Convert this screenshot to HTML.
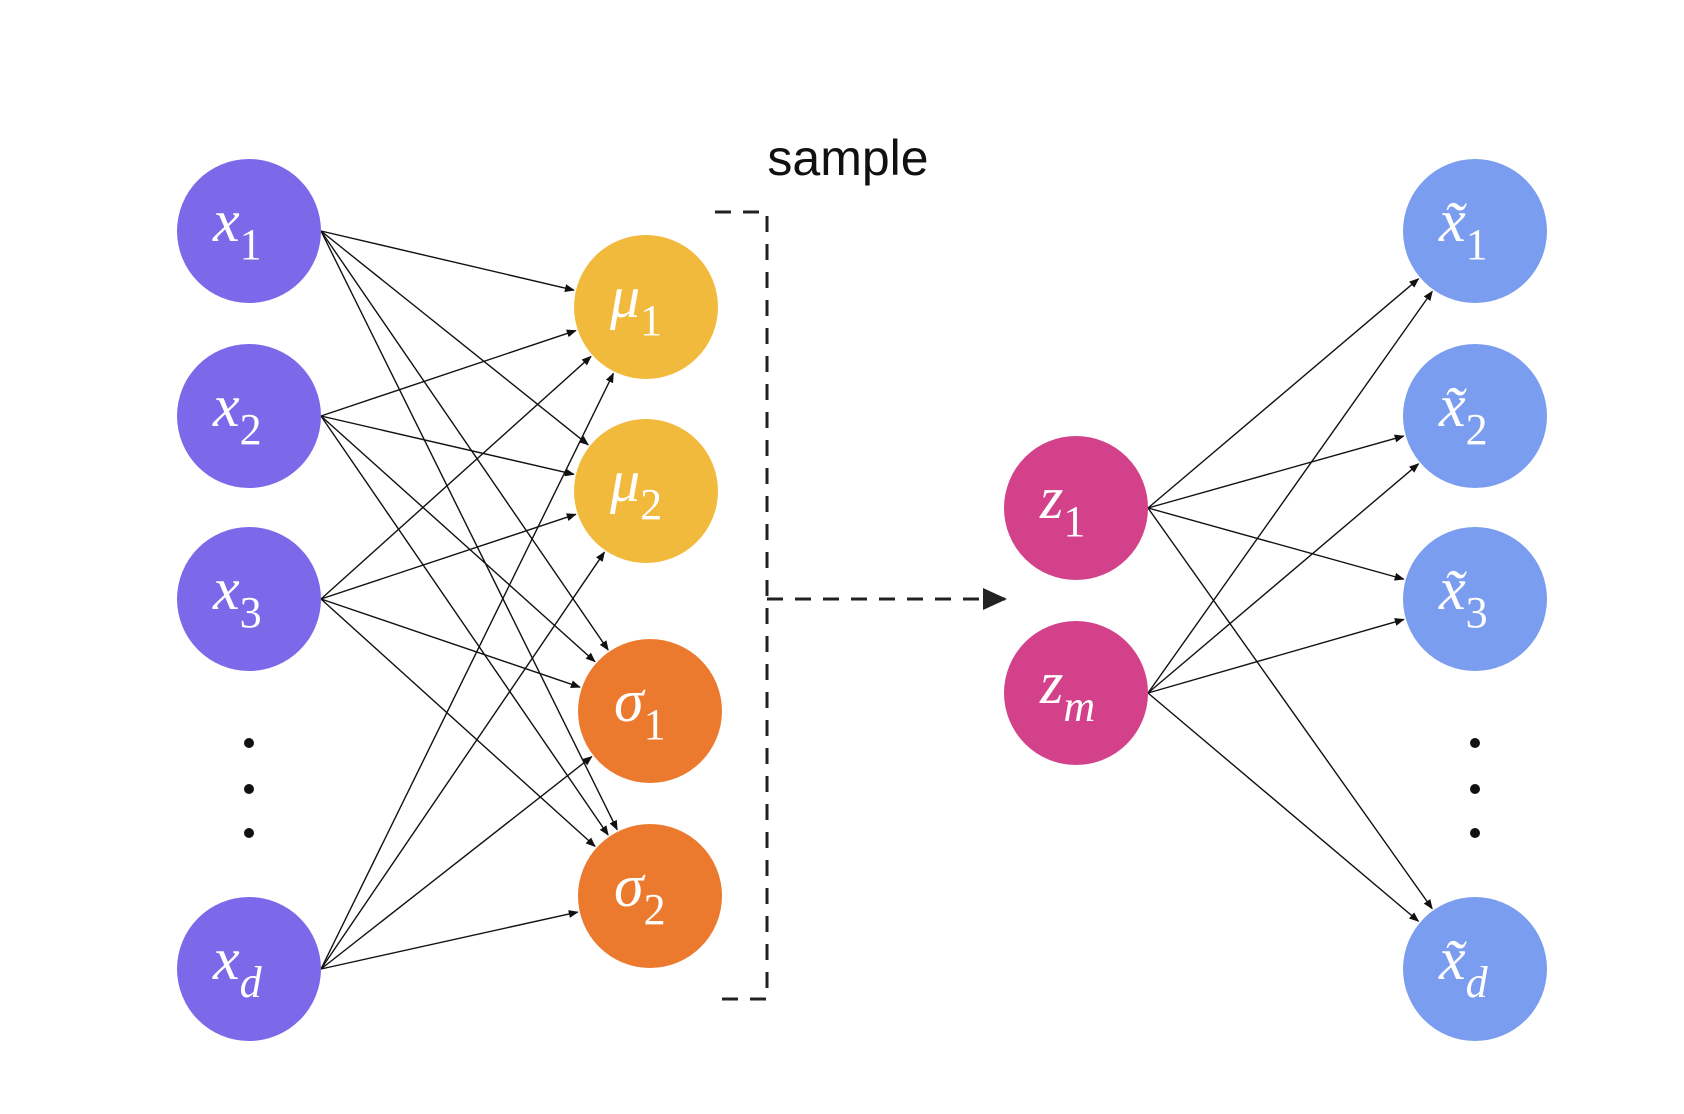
<!DOCTYPE html>
<html><head><meta charset="utf-8"><style>
html,body{margin:0;padding:0;background:#fff;}
svg{display:block}
.lbl{font-family:"Liberation Serif",serif;fill:#fff;}
</style></head><body>
<svg id="s" width="1684" height="1114" viewBox="0 0 1684 1114" xmlns="http://www.w3.org/2000/svg">
<defs><marker id="ah" markerWidth="10" markerHeight="8" refX="9" refY="4" orient="auto" markerUnits="userSpaceOnUse"><path d="M0,0 L10,4 L0,8 z" fill="#111"/></marker>
<marker id="ab" markerWidth="24" markerHeight="22" refX="22" refY="11" orient="auto" markerUnits="userSpaceOnUse"><path d="M0,0 L24,11 L0,22 z" fill="#222"/></marker></defs>
<g id="edges" stroke="#111" stroke-width="1.4" fill="none"></g>
<g id="nodes"></g>
<text x="848" y="175" font-family="Liberation Sans, sans-serif" font-size="50" fill="#111" text-anchor="middle">sample</text>
<path d="M715,212 H767 V999 H715" stroke="#222" stroke-width="3" fill="none" stroke-dasharray="16,12"/>
<path d="M767,599 H1005" stroke="#222" stroke-width="3" fill="none" stroke-dasharray="16,12" marker-end="url(#ab)"/>
<g fill="#111"><circle cx="249" cy="743" r="5"/><circle cx="249" cy="789" r="5"/><circle cx="249" cy="833" r="5"/>
<circle cx="1475" cy="743" r="5"/><circle cx="1475" cy="789" r="5"/><circle cx="1475" cy="833" r="5"/></g>
</svg>
<script>
var NS="http://www.w3.org/2000/svg",R=72;
var X=[[249,231,"x","1"],[249,416,"x","2"],[249,599,"x","3"],[249,969,"x","d"]];
var H=[[646,307,"μ","1","#F2BA3C"],[646,491,"μ","2","#F2BA3C"],[650,711,"σ","1","#EC7A2E"],[650,896,"σ","2","#EC7A2E"]];
var Z=[[1076,508,"z","1"],[1076,693,"z","m"]];
var T=[[1475,231,"x̃","1"],[1475,416,"x̃","2"],[1475,599,"x̃","3"],[1475,969,"x̃","d"]];
var eg=document.getElementById("edges"),ng=document.getElementById("nodes");
function edge(a,b){var sx=a[0]+R,sy=a[1];var dx=b[0]-sx,dy=b[1]-sy,l=Math.sqrt(dx*dx+dy*dy);
var ex=b[0]-dx/l*(R+2),ey=b[1]-dy/l*(R+2);var p=document.createElementNS(NS,"line");
p.setAttribute("x1",sx);p.setAttribute("y1",sy);p.setAttribute("x2",ex);p.setAttribute("y2",ey);p.setAttribute("marker-end","url(#ah)");eg.appendChild(p);}
X.forEach(function(a){H.forEach(function(b){edge(a,b)})});
Z.forEach(function(a){T.forEach(function(b){edge(a,b)})});
function node(n,c){var ci=document.createElementNS(NS,"circle");ci.setAttribute("cx",n[0]);ci.setAttribute("cy",n[1]);ci.setAttribute("r",R);ci.setAttribute("fill",c);ng.appendChild(ci);
var t=document.createElementNS(NS,"text");t.setAttribute("class","lbl");t.setAttribute("x",n[0]-36);t.setAttribute("y",n[1]+10);
var a=document.createElementNS(NS,"tspan");a.setAttribute("font-style","italic");a.setAttribute("font-size","60");a.textContent=n[2];
var b=document.createElementNS(NS,"tspan");b.setAttribute("font-size","44");b.setAttribute("dy","18");if(n[3]=="d"||n[3]=="m")b.setAttribute("font-style","italic");b.textContent=n[3];
t.appendChild(a);t.appendChild(b);ng.appendChild(t);}
X.forEach(function(n){node(n,"#7B69E9")});
H.forEach(function(n){node(n,n[4])});
Z.forEach(function(n){node(n,"#D2418A")});
T.forEach(function(n){node(n,"#7B9DF0")});
</script>
</body></html>
